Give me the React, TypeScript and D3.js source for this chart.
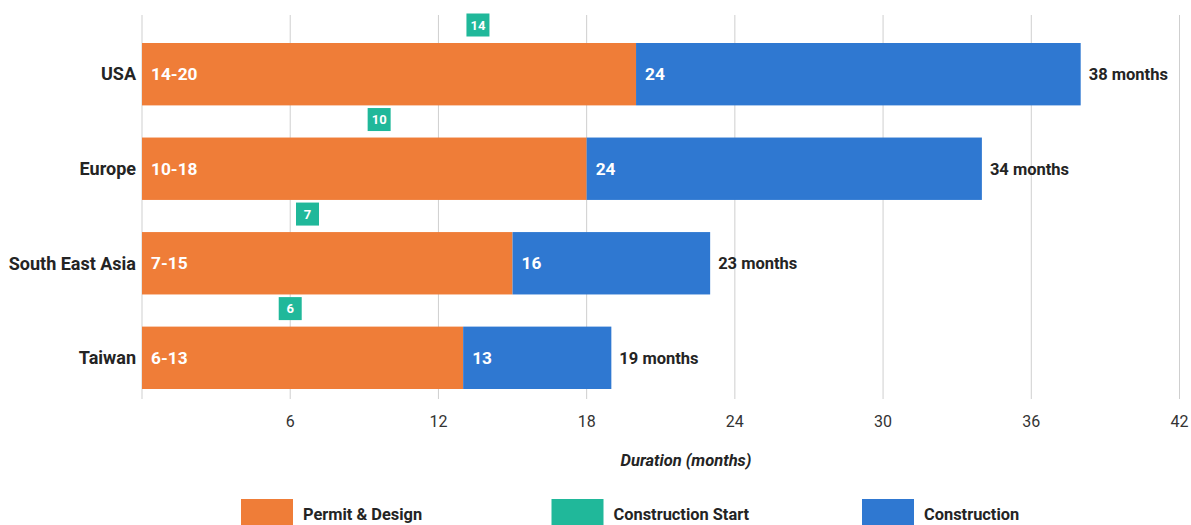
import React from "react";
import * as d3 from "d3";

// ---- data ----
const categories = ["USA", "Europe", "South East Asia", "Taiwan"];
const permitDesignEnd = [20, 18, 15, 13]; // months, end of permit & design
const constructionStart = [14, 10, 7, 6]; // construction start label values
const constructionStartPos = [13.6, 9.6, 6.7, 6.0]; // marker positions as drawn
const totalDuration = [38, 34, 23, 19]; // months, end of construction
const xTicks = [6, 12, 18, 24, 30, 36, 42];
const gridValues = [0, 6, 12, 18, 24, 30, 36, 42];
const legendItems = ["Permit & Design", "Construction Start", "Construction"];

const W = 1191;
const H = 525;
const COLORS = { permit: "#EF7D38", start: "#20B89A", construction: "#2F78D1" };
const FONT = "Roboto, 'Liberation Sans', sans-serif";
const TEXT = "#242424";

export default function App() {
  const x = d3.scaleLinear().domain([0, 42]).range([142, 1179.5]);
  const y = d3.scaleBand<string>().domain(categories).range([43, 389]).paddingInner(0.34).paddingOuter(0);
  const bw = y.bandwidth();
  const legendColors = [COLORS.permit, COLORS.start, COLORS.construction];

  return (
    <svg width={W} height={H} style={{ position: "absolute", left: 0, top: 0, fontFamily: FONT }}>
      <rect width={W} height={H} fill="#fff" />
      {/* grid */}
      {gridValues.map((v) => (
        <line key={v} x1={x(v)} x2={x(v)} y1={15} y2={399} stroke="#cfcfcf" strokeWidth={1} />
      ))}
      {/* tick labels */}
      {xTicks.map((v) => (
        <text key={v} x={x(v)} y={427} textAnchor="middle" fontSize={16} fill="#333">
          {v}
        </text>
      ))}
      {/* bars */}
      {categories.map((c, i) => {
        const y0 = y(c)!;
        const cy = y0 + bw / 2;
        const mx = x(constructionStartPos[i]);
        const my = y0 - 18;
        return (
          <g key={c}>
            <rect x={x(0)} y={y0} width={x(permitDesignEnd[i]) - x(0)} height={bw} fill={COLORS.permit} />
            <rect
              x={x(permitDesignEnd[i])}
              y={y0}
              width={x(totalDuration[i]) - x(permitDesignEnd[i])}
              height={bw}
              fill={COLORS.construction}
            />
            <text x={136} y={cy} dy="0.35em" textAnchor="end" fontSize={18} fontWeight="bold" fill={TEXT}>
              {c}
            </text>
            <text x={x(0) + 9} y={cy} dy="0.35em" fontSize={17.3} fontWeight="bold" fill="#fff">
              {`${constructionStart[i]}-${permitDesignEnd[i]}`}
            </text>
            <text x={x(permitDesignEnd[i]) + 9} y={cy} dy="0.35em" fontSize={17.3} fontWeight="bold" fill="#fff">
              {totalDuration[i] - constructionStart[i]}
            </text>
            <text x={x(totalDuration[i]) + 8} y={cy} dy="0.35em" fontSize={16.5} fontWeight="bold" fill={TEXT}>
              {`${totalDuration[i]} months`}
            </text>
            <rect x={mx - 11.5} y={my - 11.5} width={23} height={23} fill={COLORS.start} />
            <text x={mx} y={my} dy="0.35em" textAnchor="middle" fontSize={13} fontWeight="bold" fill="#fff">
              {constructionStart[i]}
            </text>
          </g>
        );
      })}
      {/* axis title */}
      <text x={686} y={466} textAnchor="middle" fontSize={16.5} fontWeight="bold" fontStyle="italic" fill={TEXT}>
        Duration (months)
      </text>
      {/* legend */}
      {legendItems.map((name, i) => {
        const lx = 241 + i * 310.5;
        return (
          <g key={name}>
            <rect x={lx} y={499} width={52} height={32} fill={legendColors[i]} />
            <text x={lx + 62} y={520} fontSize={16.4} fontWeight="bold" fill={TEXT}>
              {name}
            </text>
          </g>
        );
      })}
    </svg>
  );
}
